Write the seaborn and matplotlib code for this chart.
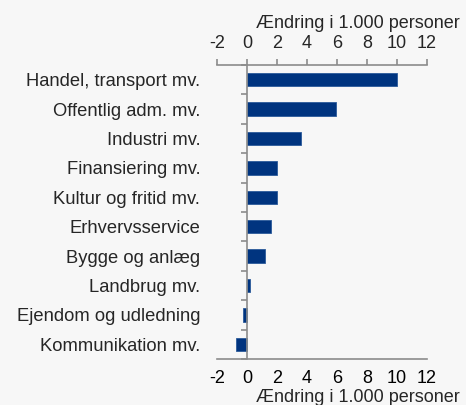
import matplotlib
matplotlib.use("Agg")
import matplotlib.pyplot as plt
import seaborn as sns
import pandas as pd
import numpy as np

categories = ["Handel, transport mv.", "Offentlig adm. mv.", "Industri mv.",
              "Finansiering mv.", "Kultur og fritid mv.", "Erhvervsservice",
              "Bygge og anlæg", "Landbrug mv.", "Ejendom og udledning",
              "Kommunikation mv."]
values = [10.0, 5.9, 3.6, 2.0, 2.0, 1.6, 1.2, 0.2, -0.3, -0.75]
xticks = [-2, 0, 2, 4, 6, 8, 10, 12]
xlabel = "Ændring i 1.000 personer"

sns.set_style("white")
plt.rcParams['font.family'] = ['Liberation Sans', 'DejaVu Sans']
bg = "#f7f7f7"
grey = "#8c8c8c"
navy = "#00347f"

df = pd.DataFrame({"cat": categories, "val": values})

fig = plt.figure(figsize=(4.66, 4.05), dpi=100, facecolor=bg)
ax = fig.add_axes([217/466, 46/405, 210/466, 294/405], facecolor=bg)
sns.barplot(data=df, x="val", y="cat", orient="h", color=navy, width=0.45,
            edgecolor="#2a5a9a", linewidth=0.6, saturation=1, ax=ax)
ax.set_xlim(-2, 12)
ax.set_ylim(9.5, -0.5)
ax.set_xticks(xticks)
ax.set_xticklabels([str(t) for t in xticks])
ax.set_ylabel("")
ax.set_xlabel("")
for s in ["left", "right", "top"]:
    ax.spines[s].set_visible(False)
ax.spines["bottom"].set_color(grey)
ax.spines["bottom"].set_linewidth(1.2)
ax.tick_params(axis="x", direction="in", length=4, width=1.2, color=grey,
               labelsize=13, pad=8, labelcolor="black")
ax.tick_params(axis="y", length=0, labelsize=13.2, pad=12)

# top axis
sec = ax.secondary_xaxis("top")
sec.set_xticks(xticks)
sec.set_xticklabels([str(t) for t in xticks])
sec.spines["top"].set_color(grey)
sec.spines["top"].set_linewidth(1.2)
sec.tick_params(direction="out", length=4, width=1.2, color=grey,
                labelsize=13, pad=5)

# zero line with category boundary ticks
ax2 = ax.twinx()
ax2.set_ylim(9.5, -0.5)
for s in ["right", "top", "bottom"]:
    ax2.spines[s].set_visible(False)
ax2.spines["left"].set_position(("data", 0))
ax2.spines["left"].set_color(grey)
ax2.spines["left"].set_linewidth(1.2)
ax2.yaxis.set_ticks_position("left")
ax2.set_yticks(np.arange(-0.5, 9.6, 1.0))
ax2.set_yticklabels([])
ax2.tick_params(axis="y", direction="out", length=4, width=1.2, color=grey)
ax2.set_zorder(ax.get_zorder() + 1)
ax2.patch.set_visible(False)

fig.text(357.5/466, 1 - 24/405, xlabel, ha="center", va="center", fontsize=13)
fig.text(357.5/466, 1 - 398/405, xlabel, ha="center", va="center", fontsize=13)

fig.savefig("out.png", dpi=100, facecolor=bg)
